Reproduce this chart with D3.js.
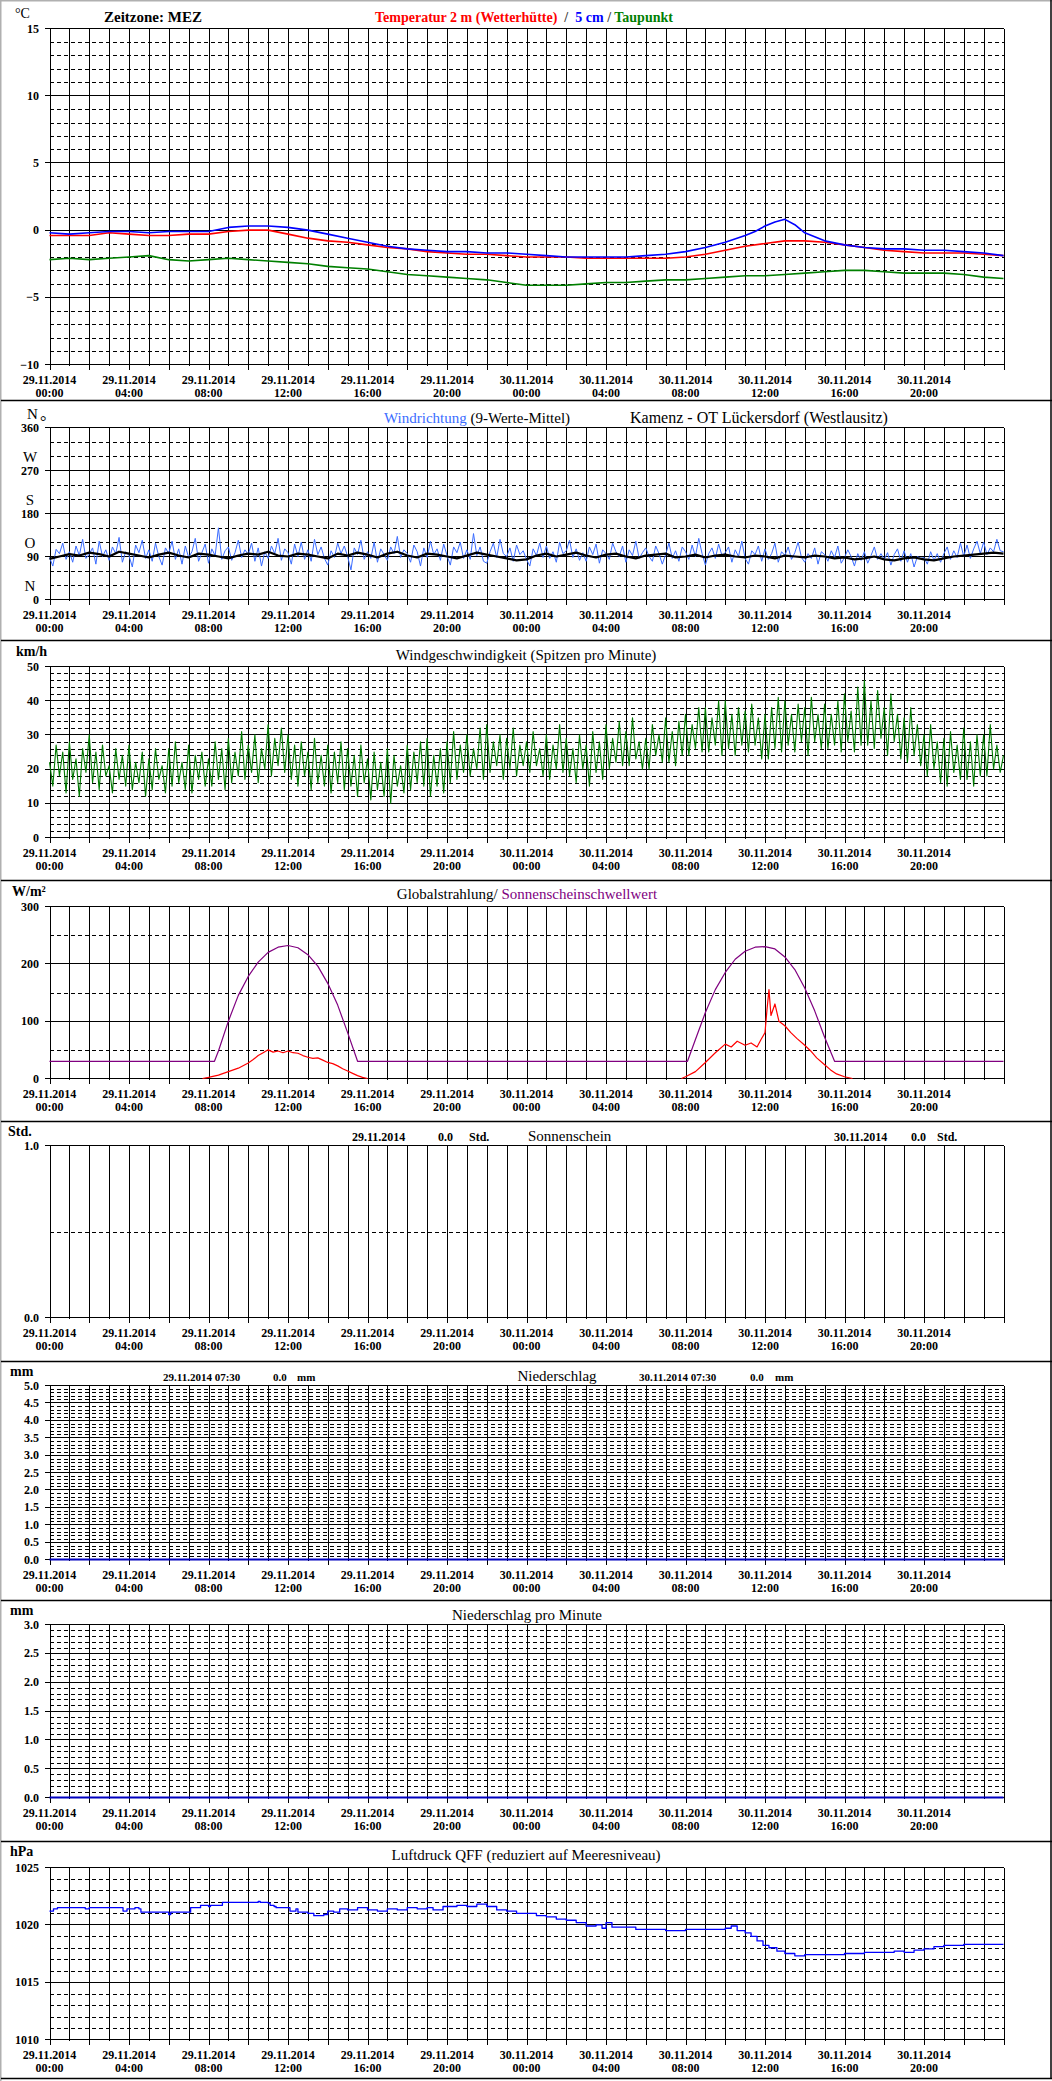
<!DOCTYPE html>
<html><head><meta charset="utf-8">
<script src="https://cdn.jsdelivr.net/npm/d3@7"></script>
<style>
body{margin:0;background:#fff}
svg{display:block}
text{font-family:"Liberation Serif","Times New Roman",serif;fill:#000;white-space:pre}
</style>
</head><body>
<svg id="c" width="1052" height="2081"></svg>
<script>
// ---------------- DATA ----------------
const tickHours = [0,4,8,12,16,20,24,28,32,36,40,44];
const dateLabels = ["29.11.2014","29.11.2014","29.11.2014","29.11.2014","29.11.2014","29.11.2014",
                    "30.11.2014","30.11.2014","30.11.2014","30.11.2014","30.11.2014","30.11.2014"];
const timeLabels = ["00:00","04:00","08:00","12:00","16:00","20:00","00:00","04:00","08:00","12:00","16:00","20:00"];

// temperature (°C), hourly 0..48
const tempHours = [0,1,2,3,4,5,6,7,8,9,10,11,12,13,14,15,16,17,18,19,20,21,22,23,24,25,26,27,28,29,30,31,32,33,34,35,36,37,38,39,40,41,42,43,44,45,46,47,48];
const temp2m = [-0.4,-0.4,-0.4,-0.2,-0.3,-0.4,-0.4,-0.3,-0.3,-0.1,0.0,0.0,-0.3,-0.6,-0.8,-0.9,-1.1,-1.3,-1.4,-1.6,-1.7,-1.8,-1.8,-1.9,-2.0,-2.0,-2.0,-2.1,-2.1,-2.1,-2.1,-2.1,-2.0,-1.8,-1.5,-1.2,-1.0,-0.8,-0.8,-0.9,-1.1,-1.3,-1.5,-1.6,-1.7,-1.7,-1.7,-1.8,-1.9];
const t5Hours = [0,1,2,3,4,5,6,7,8,9,10,11,12,13,14,15,16,17,18,19,20,21,22,23,24,25,26,27,28,29,30,31,32,33,34,35,35.5,36,36.5,37,37.5,38,39,40,41,42,43,44,45,46,47,48];
const temp5cm = [-0.2,-0.3,-0.2,-0.1,-0.1,-0.2,-0.1,-0.1,-0.1,0.2,0.3,0.3,0.2,0.0,-0.3,-0.6,-0.9,-1.2,-1.4,-1.5,-1.6,-1.6,-1.7,-1.7,-1.8,-1.9,-2.0,-2.0,-2.0,-2.0,-1.9,-1.8,-1.6,-1.3,-0.9,-0.4,-0.1,0.3,0.6,0.8,0.4,-0.2,-0.8,-1.1,-1.3,-1.4,-1.4,-1.5,-1.5,-1.6,-1.7,-1.9];
const dewPoint = [-2.2,-2.1,-2.2,-2.1,-2.0,-1.9,-2.2,-2.3,-2.2,-2.1,-2.2,-2.3,-2.4,-2.5,-2.7,-2.8,-2.9,-3.1,-3.3,-3.4,-3.5,-3.6,-3.7,-3.9,-4.1,-4.1,-4.1,-4.0,-3.9,-3.9,-3.8,-3.7,-3.7,-3.6,-3.5,-3.4,-3.4,-3.3,-3.2,-3.1,-3.0,-3.0,-3.1,-3.2,-3.2,-3.2,-3.3,-3.5,-3.6];

// wind direction (°): raw every 10 min, 9-value mean every 30 min
const wdRaw = [
  88,70,105,96,118,84, 100,78,112,92,126,86, 95,108,74,122,90,104, 82,110,96,130,78,100,
  92,68,114,98,124,86, 104,80,118,90,72,108, 96,122,84,106,74,112, 88,100,128,80,98,116,
  76,106,92,150,84,102, 110,82,98,124,88,104, 94,118,80,108,70,100, 86,112,96,128,82,106,
  98,74,116,90,120,84, 104,80,126,94,110,86, 72,102,88,118,96,112, 90,62,108,94,124,84,
  100,86,120,78,106,94, 82,110,96,132,88,104, 96,78,114,100,70,108, 88,122,94,106,82,116,
  92,72,110,98,120,86, 104,84,138,92,110,80, 76,100,118,88,126,96, 90,108,80,114,94,102,
  84,70,106,92,118,88, 112,86,100,78,120,96, 102,124,88,106,82,98, 80,110,94,116,76,104,
  96,84,118,100,90,112, 78,104,92,122,86,98, 108,90,80,112,96,74, 94,118,86,102,80,110,
  100,84,114,90,128,96, 72,96,108,86,116,92, 98,110,78,104,90,122, 86,74,102,94,112,80,
  106,84,96,118,78,100, 92,110,84,98,120,88, 78,96,86,108,74,100, 94,80,102,88,112,76,
  88,104,90,70,96,82, 100,76,92,110,84,96, 84,98,72,94,106,80, 102,78,96,68,90,86,
  88,74,100,82,96,78, 96,110,84,102,88,118, 90,114,86,106,122,96, 120,94,108,100,126,102, 100];
const wdMean = [85,90,95,92,98,95,90,100,96,92,88,94,98,92,88,96,94,90,86,92,96,94,100,92,
  90,96,94,90,86,96,92,98,94,88,96,100,92,88,96,94,90,86,92,98,94,90,86,82,
  84,92,96,90,94,98,92,88,94,96,90,86,92,94,96,88,90,94,88,92,94,90,88,92,
  90,86,92,90,88,92,90,86,88,84,86,90,84,82,86,88,84,82,86,90,92,94,96,98,96];

// wind speed peaks (km/h), every 10 min
const windSpeed = [
  22,15,27,18,25,13, 28,17,23,12,26,19, 30,16,25,14,27,18, 21,13,26,17,24,15,
  27,14,22,16,25,12, 23,14,26,17,21,13, 26,15,28,16,22,14, 27,13,24,17,25,15,
  23,15,28,17,26,14, 29,16,25,18,31,17, 27,19,30,16,26,20, 33,18,29,21,32,19,
  30,17,27,15,28,18, 25,14,29,16,24,15, 27,13,25,16,28,14, 26,15,24,12,27,16,
  23,11,25,14,22,12, 26,10,24,15,21,13, 27,14,25,16,28,15, 29,12,24,15,26,13,
  28,16,31,17,27,19, 30,18,26,20,32,17, 33,19,28,21,30,17, 29,20,32,18,27,21,
  28,19,31,21,26,18, 30,17,27,20,33,19, 29,18,26,16,30,20, 27,15,31,19,28,17,
  33,20,29,22,34,21, 31,21,35,23,28,20, 29,20,33,24,30,22, 35,22,31,21,34,24,
  36,24,33,26,38,25, 38,25,35,27,40,24, 40,26,36,24,38,27, 37,25,39,27,35,23,
  36,23,38,26,41,25, 40,27,36,25,39,28, 38,24,41,28,36,26, 39,26,36,27,40,25,
  42,28,37,25,44,27, 46,27,40,26,43,29, 38,24,42,28,36,23, 35,22,38,24,33,21,
  30,18,33,20,28,16, 29,15,31,19,27,17, 32,17,28,15,30,18, 30,18,33,20,27,19, 24];

// global radiation (W/m²)
const radHours1 = [7.7,8,8.5,9,9.5,10,10.25,10.5,10.75,11,11.25,11.5,11.75,12,12.25,12.5,12.75,13,13.25,13.5,13.75,14,14.25,14.5,14.75,15,15.25,15.5,15.75,16];
const radVals1  = [0,2,6,12,18,27,33,40,45,50,46,48,45,48,45,44,40,37,35,36,32,28,26,22,17,13,9,5,2,0];
const radHours2 = [31.8,32,32.5,33,33.5,34,34.3,34.6,35,35.3,35.6,35.8,36,36.1,36.2,36.3,36.5,36.7,37,37.3,37.6,38,38.3,38.6,39,39.3,39.6,40,40.4];
const radVals2  = [0,3,12,28,45,60,55,65,58,62,55,68,80,120,155,110,130,100,92,80,70,58,48,36,24,15,8,3,0];
// sunshine threshold (W/m²)
const sunHours = [0,8.3,8.5,9,9.5,10,10.5,11,11.5,12,12.5,13,13.5,14,14.5,15,15.5,32.1,32.5,33,33.5,34,34.5,35,35.5,36,36.5,37,37.5,38,38.5,39,39.5,48];
const sunVals  = [30,30,48,100,145,178,203,220,229,232,228,216,196,166,128,80,30,30,68,115,155,185,208,222,229,230,226,212,190,158,118,72,30,30];

// precipitation (mm)
const precipHours = [0,48];
const precipVals = [0,0];
const precipMinVals = [0,0];

// pressure (hPa)
const pHours = [0,0.2,0.4,1.8,2.0,3.6,3.7,3.9,4.3,4.5,4.6,5.9,6.0,6.1,7.0,7.1,7.5,7.6,8.0,8.1,8.6,8.7,10.4,10.5,10.6,11.0,11.1,11.3,11.4,12.0,12.1,12.4,12.5,13.0,13.3,13.8,14.0,14.3,14.6,15.0,15.5,16.0,16.5,17.0,17.5,18.0,18.5,19.0,19.3,19.8,20.5,21.0,21.5,22.0,22.5,23.0,23.5,24.0,24.5,25.0,25.5,26.0,26.5,27.0,27.5,27.8,28.0,28.3,29.0,29.5,30.0,31.0,32.0,33.0,34.0,34.3,34.6,35.0,35.3,35.6,35.9,36.2,36.6,37.0,37.5,38.0,39.0,40.0,41.0,42.0,42.5,43.0,43.5,44.0,44.5,45.0,46.0,47.0,48.0];
const pVals  = [1021.2,1021.4,1021.5,1021.4,1021.5,1021.5,1021.2,1021.4,1021.5,1021.4,1021.1,1021.1,1020.9,1021.1,1021.1,1021.5,1021.5,1021.7,1021.6,1021.7,1021.7,1021.95,1021.95,1022.05,1021.95,1021.9,1021.7,1021.6,1021.5,1021.5,1021.2,1021.4,1021.1,1021.0,1020.8,1020.9,1021.2,1021.1,1021.4,1021.3,1021.5,1021.3,1021.2,1021.4,1021.3,1021.5,1021.4,1021.5,1021.3,1021.6,1021.7,1021.6,1021.8,1021.6,1021.3,1021.2,1021.0,1021.0,1020.8,1020.7,1020.5,1020.4,1020.2,1019.9,1020.0,1019.7,1020.2,1019.8,1019.8,1019.6,1019.6,1019.5,1019.6,1019.6,1019.7,1019.9,1019.5,1019.3,1019.0,1018.6,1018.2,1018.0,1017.7,1017.5,1017.3,1017.4,1017.4,1017.5,1017.6,1017.6,1017.7,1017.6,1017.8,1017.9,1018.1,1018.2,1018.3,1018.3,1018.3];

// ---------------- LAYOUT ----------------
const svg = d3.select("#c");
const X0 = 49.5, X1 = 1003.5;
const x = d3.scaleLinear().domain([0,48]).range([X0,X1]);
const FONT_B = "bold 12px 'Liberation Serif'";

const panels = [
  {top:28, bottom:364, min:-10, max:15, solid:5, dash:1, ticks:[15,10,5,0,-5,-10], fmt:d3.format("d")},
  {top:427, bottom:599, min:0, max:360, solid:90, dash:30, ticks:[360,270,180,90,0], fmt:d3.format("d")},
  {top:666, bottom:837, min:0, max:50, solid:10, dash:2, ticks:[50,40,30,20,10,0], fmt:d3.format("d")},
  {top:906, bottom:1078, min:0, max:300, solid:100, dash:50, ticks:[300,200,100,0], fmt:d3.format("d")},
  {top:1145, bottom:1317, min:0, max:1, solid:1, dash:0.5, ticks:[1,0], fmt:d3.format(".1f")},
  {top:1385, bottom:1559, min:0, max:5, solid:0.5, dash:0.1, ticks:[5,4.5,4,3.5,3,2.5,2,1.5,1,0.5,0], fmt:d3.format(".1f")},
  {top:1624, bottom:1797, min:0, max:3, solid:0.5, dash:0.1, ticks:[3,2.5,2,1.5,1,0.5,0], fmt:d3.format(".1f")},
  {top:1867, bottom:2039, min:1010, max:1025, solid:5, dash:1, ticks:[1025,1020,1015,1010], fmt:d3.format("d")}
];
const separators = [400.5, 640.5, 880.5, 1121.5, 1361.5, 1600.5, 1841.5, 2078.5];

// page frame
svg.append("rect").attr("x",0).attr("y",0).attr("width",1052).attr("height",2081).attr("fill","#fff");
svg.append("line").attr("x1",0.5).attr("x2",0.5).attr("y1",0).attr("y2",2081).attr("stroke","#b0b0b0").attr("stroke-width",2);
svg.append("line").attr("x1",0).attr("x2",1052).attr("y1",0.5).attr("y2",0.5).attr("stroke","#b0b0b0").attr("stroke-width",2);
svg.append("line").attr("x1",1051).attr("x2",1051).attr("y1",0).attr("y2",2079).attr("stroke","#000").attr("stroke-width",1.5);
separators.forEach(s=>svg.append("line").attr("x1",1).attr("x2",1052).attr("y1",s).attr("y2",s).attr("stroke","#000").attr("stroke-width",1.5));

const ys = panels.map(p=>{
  const y = d3.scaleLinear().domain([p.min,p.max]).range([p.bottom+0.5,p.top+0.5]);
  const g = svg.append("g").attr("shape-rendering","crispEdges");
  const eps = 1e-6;
  const nd = Math.round((p.max-p.min)/p.dash);
  const dashVals = d3.range(nd+1).map(i=>p.min+i*p.dash)
     .filter(v=>Math.abs((v-p.min)/p.solid - Math.round((v-p.min)/p.solid))>eps);
  g.selectAll(".dh").data(dashVals).join("line")
    .attr("x1",X0).attr("x2",X1).attr("y1",d=>Math.round(y(d))+0.5).attr("y2",d=>Math.round(y(d))+0.5)
    .attr("stroke","#000").attr("stroke-width",1).attr("stroke-dasharray","4,3");
  const ns = Math.round((p.max-p.min)/p.solid);
  const solidVals = d3.range(ns+1).map(i=>p.min+i*p.solid);
  g.selectAll(".sh").data(solidVals).join("line")
    .attr("x1",X0-5).attr("x2",X1).attr("y1",d=>y(d)).attr("y2",d=>y(d))
    .attr("stroke","#000").attr("stroke-width",1);
  g.selectAll(".sv").data(d3.range(49)).join("line")
    .attr("x1",d=>Math.round(x(d))+0.5).attr("x2",d=>Math.round(x(d))+0.5)
    .attr("y1",y(p.max)).attr("y2",y(p.min)+1)
    .attr("stroke","#000").attr("stroke-width",1);
  g.selectAll(".xt").data(d3.range(0,49,2)).join("line")
    .attr("x1",d=>Math.round(x(d))+0.5).attr("x2",d=>Math.round(x(d))+0.5)
    .attr("y1",y(p.min)).attr("y2",y(p.min)+5)
    .attr("stroke","#000").attr("stroke-width",1);
  svg.append("g").selectAll("text").data(p.ticks).join("text")
    .attr("x",39).attr("y",d=>y(d)+4).attr("text-anchor","end")
    .style("font",FONT_B).text(d=>p.fmt(d));
  const xl = svg.append("g");
  xl.selectAll(".d").data(tickHours).join("text")
    .attr("x",d=>x(d)).attr("y",p.bottom+20).attr("text-anchor","middle")
    .style("font",FONT_B).text((d,i)=>dateLabels[i]);
  xl.selectAll(".t").data(tickHours).join("text")
    .attr("x",d=>x(d)).attr("y",p.bottom+33).attr("text-anchor","middle")
    .style("font",FONT_B).text((d,i)=>timeLabels[i]);
  return y;
});

function drawLine(hours, vals, y, color, width, curve){
  const ln = d3.line().x((d,i)=>x(hours[i])).y(d=>y(d)).curve(curve||d3.curveLinear);
  svg.append("path").datum(vals).attr("d",ln).attr("fill","none")
    .attr("stroke",color).attr("stroke-width",width).attr("stroke-linejoin","round");
}
const q10 = windSpeed.map((d,i)=>i/6);
const q10d = wdRaw.map((d,i)=>i/6);
const q30 = wdMean.map((d,i)=>i/2);

// Panel 1: temperatures
drawLine(tempHours, dewPoint, ys[0], "#008000", 1.6);
drawLine(tempHours, temp2m, ys[0], "#ff0000", 1.6);
drawLine(t5Hours, temp5cm, ys[0], "#0000ff", 1.6);
// Panel 2: wind direction
drawLine(q10d, wdRaw, ys[1], "#3a6cff", 1);
drawLine(q30, wdMean, ys[1], "#000", 2.2);
// Panel 3: wind speed
drawLine(q10, windSpeed, ys[2], "#007a00", 1.1);
// Panel 4: radiation
drawLine(sunHours, sunVals, ys[3], "#800080", 1.2);
drawLine(radHours1, radVals1, ys[3], "#ff0000", 1.2);
drawLine(radHours2, radVals2, ys[3], "#ff0000", 1.2);
// Panel 6/7: precipitation
drawLine(precipHours, precipVals, ys[5], "#0000c0", 2);
drawLine(precipHours, precipMinVals, ys[6], "#0000c0", 2);
// Panel 8: pressure
drawLine(pHours, pVals, ys[7], "#0000ff", 1.3, d3.curveStepAfter);

// ---------------- TEXTS ----------------
function txt(xp, yp, s, font, color, anchor){
  return svg.append("text").attr("x",xp).attr("y",yp).attr("text-anchor",anchor||"start")
    .style("font",font).style("fill",color||"#000").text(s);
}
const TB = "bold 14px 'Liberation Serif'";
const TN = "15px 'Liberation Serif'";
const UB = "bold 14px 'Liberation Serif'";
const SB = "bold 11px 'Liberation Serif'";
// panel 1
txt(15,18,"°C","14px 'Liberation Serif'");
txt(104,22,"Zeitzone: MEZ","bold 15px 'Liberation Serif'");
const t1 = svg.append("text").attr("x",375).attr("y",22).style("font",TB);
t1.append("tspan").style("fill","#ff0000").text("Temperatur 2 m (Wetterhütte)");
t1.append("tspan").style("fill","#404040").text("\u00a0\u00a0/\u00a0\u00a0");
t1.append("tspan").style("fill","#0000ff").text("5 cm");
t1.append("tspan").style("fill","#404040").text(" / ");
t1.append("tspan").style("fill","#008000").text("Taupunkt");
// panel 2
txt(27,419,"N","15px 'Liberation Serif'");
txt(40,427,"°","16px 'Liberation Serif'");
const dirLetters = ["W","S","O","N"];
const dirVals = [270,180,90,0];
dirVals.forEach((v,i)=>txt(30,ys[1](v)-9,dirLetters[i],"15px 'Liberation Serif'","#000","middle"));
const t2 = svg.append("text").attr("x",384).attr("y",423).style("font",TN);
t2.append("tspan").style("fill","#3a6cff").text("Windrichtung");
t2.append("tspan").style("fill","#000").text(" (9-Werte-Mittel)");
txt(630,423,"Kamenz - OT Lückersdorf (Westlausitz)","16px 'Liberation Serif'");
// panel 3
txt(16,656,"km/h",UB);
txt(526,660,"Windgeschwindigkeit (Spitzen pro Minute)",TN,"#000","middle");
// panel 4
txt(12,896,"W/m²",UB);
const t4 = svg.append("text").attr("x",527).attr("y",899).attr("text-anchor","middle").style("font",TN);
t4.append("tspan").style("fill","#000").text("Globalstrahlung/ ");
t4.append("tspan").style("fill","#800080").text("Sonnenscheinschwellwert");
// panel 5
txt(8,1136,"Std.",UB);
txt(352,1141,"29.11.2014",FONT_B); txt(438,1141,"0.0",FONT_B); txt(469,1141,"Std.",FONT_B);
txt(528,1141,"Sonnenschein",TN);
txt(834,1141,"30.11.2014",FONT_B); txt(911,1141,"0.0",FONT_B); txt(937,1141,"Std.",FONT_B);
// panel 6
txt(10,1376,"mm",UB);
txt(163,1381,"29.11.2014 07:30",SB); txt(273,1381,"0.0",SB); txt(297,1381,"mm",SB);
txt(557,1381,"Niederschlag",TN,"#000","middle");
txt(639,1381,"30.11.2014 07:30",SB); txt(750,1381,"0.0",SB); txt(775,1381,"mm",SB);
// panel 7
txt(10,1615,"mm",UB);
txt(527,1620,"Niederschlag pro Minute",TN,"#000","middle");
// panel 8
txt(10,1856,"hPa",UB);
txt(526,1860,"Luftdruck QFF (reduziert auf Meeresniveau)",TN,"#000","middle");
</script>
</body></html>
